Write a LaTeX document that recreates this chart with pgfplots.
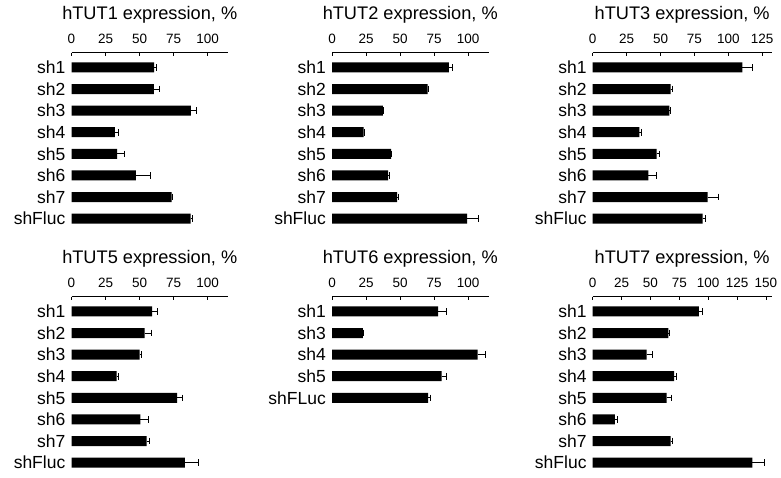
\documentclass[border=0pt]{standalone}
\usepackage{fontspec}
\setmainfont{Liberation Sans}
\usepackage{pgfplots}
\pgfplotsset{compat=1.18}
\pgfplotsset{
  panel/.style={
    scale only axis,
    width=156.5pt, height=176.9pt,
    anchor=south west,
    xmin=0, xmax=115,
    ymin=-0.5, ymax=7.69,
    axis x line*=top, axis y line*=left,
    y axis line style={draw=none},
    x axis line style={line width=0.8pt, black},
    ytick style={draw=none},
    xtick style={line width=0.8pt, black},
    major tick length=3pt,
    tick align=inside,
    xtick={0,25,50,75,100},
    ytick={7,6,5,4,3,2,1,0},
    /pgf/number format/assume math mode=true,
    xticklabel style={anchor=base, yshift=9pt, inner sep=0pt, font=\fontsize{13.5}{15}\selectfont},
    yticklabel style={anchor=east, xshift=-6pt, inner sep=0pt, font=\fontsize{17.5}{20}\selectfont},
    title style={at={(0.5,1)}, anchor=base, yshift=27.5pt, inner sep=0pt, font=\fontsize{18.2}{21}\selectfont},
    clip=false,
  },
  bars/.style={
    xbar, bar width=10pt, fill=black, draw=none,
    error bars/.cd, x dir=plus, x explicit,
    error mark=|,
    error bar style={line width=1pt, black},
    error mark options={mark size=3.3pt, line width=1pt, black},
  },
}
\begin{document}
\begin{tikzpicture}
\useasboundingbox (0,0) rectangle (781pt,477pt);
% hTUT1
\begin{axis}[panel, at={(71.5pt,247.6pt)}, title={hTUT1 expression, \%},
  yticklabels={sh1,sh2,sh3,sh4,sh5,sh6,sh7,shFluc}]
\addplot[bars] coordinates {
(60.8,7) +- (1.7,0)
(60.5,6) +- (4.4,0)
(87.7,5) +- (4.2,0)
(31.8,4) +- (3.0,0)
(33.6,3) +- (5.0,0)
(47.3,2) +- (10.7,0)
(73.5,1) +- (1.0,0)
(87.5,0) +- (1.7,0)
};
\end{axis}
% hTUT2
\begin{axis}[panel, at={(332pt,247.6pt)}, title={hTUT2 expression, \%},
  yticklabels={sh1,sh2,sh3,sh4,sh5,sh6,sh7,shFluc}]
\addplot[bars] coordinates {
(85.8,7) +- (2.9,0)
(70.3,6) +- (0.5,0)
(37.3,5) +- (0.3,0)
(23.3,4) +- (0.3,0)
(43.4,3) +- (0.6,0)
(41.2,2) +- (1.0,0)
(47.8,1) +- (0.8,0)
(99.3,0) +- (8.5,0)
};
\end{axis}
% hTUT3
\begin{axis}[panel, at={(592.7pt,247.6pt)}, width=179pt, xmax=132, title={hTUT3 expression, \%},
  xtick={0,25,50,75,100,125},
  yticklabels={sh1,sh2,sh3,sh4,sh5,sh6,sh7,shFluc}]
\addplot[bars] coordinates {
(110.3,7) +- (7.6,0)
(57.5,6) +- (1.0,0)
(56.5,5) +- (0.5,0)
(34.4,4) +- (1.5,0)
(47.2,3) +- (1.9,0)
(41.0,2) +- (6.2,0)
(84.8,1) +- (8.3,0)
(81.1,0) +- (2.2,0)
};
\end{axis}
% hTUT5
\begin{axis}[panel, at={(71.5pt,3.6pt)}, title={hTUT5 expression, \%},
  yticklabels={sh1,sh2,sh3,sh4,sh5,sh6,sh7,shFluc}]
\addplot[bars] coordinates {
(59.3,7) +- (3.7,0)
(53.7,6) +- (4.9,0)
(50.0,5) +- (1.7,0)
(33.1,4) +- (1.7,0)
(77.7,3) +- (3.7,0)
(50.7,2) +- (6.2,0)
(55.2,1) +- (1.8,0)
(83.3,0) +- (9.8,0)
};
\end{axis}
% hTUT6
\begin{axis}[panel, at={(332pt,3.6pt)}, title={hTUT6 expression, \%},
  ytick={7,6,5,4,3},
  yticklabels={sh1,sh3,sh4,sh5,shFLuc}]
\addplot[bars] coordinates {
(77.9,7) +- (6.0,0)
(22.6,6) +- (0.8,0)
(107.0,5) +- (5.7,0)
(80.5,4) +- (3.7,0)
(70.6,3) +- (1.9,0)
};
\end{axis}
% hTUT7
\begin{axis}[panel, at={(592.7pt,3.6pt)}, width=179pt, xmax=155, title={hTUT7 expression, \%},
  xtick={0,25,50,75,100,125,150},
  yticklabels={sh1,sh2,sh3,sh4,sh5,sh6,sh7,shFluc}]
\addplot[bars] coordinates {
(92.0,7) +- (3.5,0)
(65.5,6) +- (0.8,0)
(46.7,5) +- (5.2,0)
(70.4,4) +- (2.3,0)
(64.0,3) +- (4.4,0)
(19.3,2) +- (2.0,0)
(67.5,1) +- (1.7,0)
(138.2,0) +- (10.3,0)
};
\end{axis}
\end{tikzpicture}
\end{document}
